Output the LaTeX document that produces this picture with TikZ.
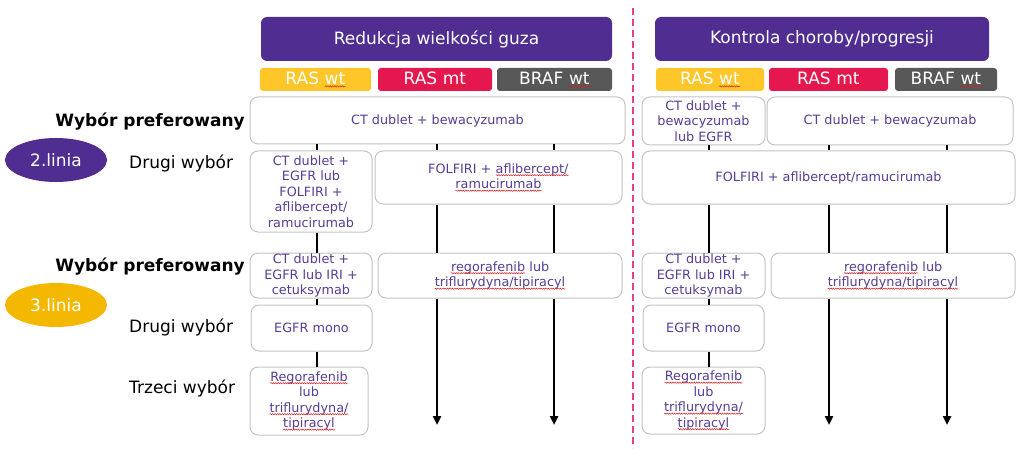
\documentclass[tikz,border=0pt]{standalone}
\usepackage{fontspec}
\setmainfont{DejaVu Sans}
\usetikzlibrary{shapes.geometric,arrows.meta,decorations.pathmorphing}
\definecolor{cpurple}{RGB}{80,46,145}
\definecolor{ctext}{RGB}{88,62,148}
\definecolor{cyellow}{RGB}{255,198,41}
\definecolor{cgold}{RGB}{245,184,0}
\definecolor{cred}{RGB}{228,24,78}
\definecolor{cgray}{RGB}{88,88,88}
\definecolor{cpink}{RGB}{232,62,140}
\definecolor{cline}{RGB}{196,196,196}
\definecolor{cspell}{RGB}{220,30,30}
\newcommand\spell[1]{\tikz[baseline=(sp.base), sharp corners, x=1pt, y=1pt]{\node [rectangle, draw=none, fill=none, inner sep=0pt, outer sep=0pt, minimum width=0pt, minimum height=0pt] (sp) {#1};
	\draw [cspell, line width=0.5pt, decorate, decoration={snake, amplitude=0.6pt, segment length=2.4pt}] ([yshift=-2pt]sp.base west) -- ([yshift=-2pt]sp.base east);}}
\tikzset{
	hdrbox/.style={fill=cpurple, rounded corners=6pt, text=white, inner sep=0pt, font=\fontsize{17}{20}\selectfont},
	tagbox/.style={rounded corners=3pt, text=white, inner sep=0pt, minimum height=23pt, font=\fontsize{17}{20}\selectfont},
	optbox/.style={draw=cline, line width=1pt, fill=white, rounded corners=8pt, text=ctext, align=center, inner sep=0pt, font=\fontsize{12.8}{15.5}\selectfont},
	linia/.style={ellipse, text=white, inner sep=0pt, minimum width=102pt, minimum height=44pt, font=\fontsize{17}{20}\selectfont},
	lbl/.style={inner sep=0pt, font=\fontsize{17}{20}\selectfont},
	link/.style={line width=2.8pt},
	flow/.style={link, -{Triangle[length=9pt,width=8pt]}}
}
\begin{document}
\begin{tikzpicture}[x=1pt,y=-1pt]
	\useasboundingbox (0,0) rectangle (1024,457);
	% headers
	\node [hdrbox, minimum width=351pt, minimum height=44pt] at (436.5,39) (h1) {Redukcja wielkości guza};
	\node [hdrbox, minimum width=334pt, minimum height=44pt] at (822,39) (h2) {Kontrola choroby/progresji};
	\node [tagbox, fill=cyellow, minimum width=111pt] at (315.5,79.5) (a1) {RAS \spell{wt}};
	\node [tagbox, fill=cred, minimum width=114pt] at (435,79.5) (a2) {RAS \spell{mt}};
	\node [tagbox, fill=cgray, minimum width=115pt] at (554.5,79.5) (a3) {BRAF \spell{wt}};
	\node [tagbox, fill=cyellow, minimum width=108pt] at (710,79.5) (b1) {RAS \spell{wt}};
	\node [tagbox, fill=cred, minimum width=119pt] at (828.5,79.5) (b2) {RAS \spell{mt}};
	\node [tagbox, fill=cgray, minimum width=102pt] at (946,79.5) (b3) {BRAF \spell{wt}};
	% row labels
	\node [lbl, anchor=east, font=\fontsize{17}{20}\selectfont\bfseries] at (245,122) (w2) {Wybór preferowany};
	\node [lbl, anchor=west] at (129,163) (d2) {Drugi wybór};
	\node [lbl, anchor=east, font=\fontsize{17}{20}\selectfont\bfseries] at (245,267) (w3) {Wybór preferowany};
	\node [lbl, anchor=west] at (129,327) (d3) {Drugi wybór};
	\node [lbl, anchor=west] at (129,388) (t3l) {Trzeci wybór};
	\node [linia, fill=cpurple] at (56,160) (e2) {2.linia};
	\node [linia, fill=cgold] at (56,305) (e3) {3.linia};
	% left part
	\node [optbox, minimum width=375pt, minimum height=47pt] at (437.5,120.5) (p1) {CT dublet + bewacyzumab};
	\node [optbox, minimum width=122pt, minimum height=81pt] at (311,191.5) (s2a) {CT dublet +\\EGFR lub\\FOLFIRI +\\aflibercept/\\ramucirumab};
	\node [optbox, minimum width=247pt, minimum height=53pt] at (498.5,177.5) (s2b) {FOLFIRI + \spell{aflibercept/}\\\spell{ramucirumab}};
	\node [optbox, minimum width=122pt, minimum height=45pt] at (311,275.5) (p3a) {CT dublet +\\EGFR lub IRI +\\cetuksymab};
	\node [optbox, minimum width=244pt, minimum height=45pt] at (500,275.5) (p3b) {\spell{regorafenib} lub\\\spell{triflurydyna/tipiracyl}};
	\node [optbox, minimum width=121pt, minimum height=46pt] at (311.5,328) (s3) {EGFR mono};
	\node [optbox, minimum width=118pt, minimum height=68pt] at (309,401) (t3) {\spell{Regorafenib}\\lub\\\spell{triflurydyna/}\\\spell{tipiracyl}};
	% right part
	\node [optbox, minimum width=123pt, minimum height=48pt] at (703.5,121) (q1a) {CT dublet +\\bewacyzumab\\lub EGFR};
	\node [optbox, minimum width=246pt, minimum height=48pt] at (890,121) (q1b) {CT dublet + bewacyzumab};
	\node [optbox, minimum width=373pt, minimum height=53pt] at (828.5,177.5) (q2) {FOLFIRI + aflibercept/ramucirumab};
	\node [optbox, minimum width=123pt, minimum height=45pt] at (703.5,275.5) (q3a) {CT dublet +\\EGFR lub IRI +\\cetuksymab};
	\node [optbox, minimum width=244pt, minimum height=45pt] at (893,275.5) (q3b) {\spell{regorafenib} lub\\\spell{triflurydyna/tipiracyl}};
	\node [optbox, minimum width=121pt, minimum height=46pt] at (703.5,328) (q4) {EGFR mono};
	\node [optbox, minimum width=123pt, minimum height=67pt] at (703.5,400.5) (q5) {\spell{Regorafenib}\\lub\\\spell{triflurydyna/}\\\spell{tipiracyl}};
	% columns
	\coordinate (cA) at (317,0);
	\coordinate (cB) at (437,0);
	\coordinate (cC) at (554,0);
	\coordinate (cD) at (709,0);
	\coordinate (cE) at (829,0);
	\coordinate (cF) at (947,0);
	\coordinate (z1) at (437,425);
	\coordinate (z2) at (554,425);
	\coordinate (z3) at (829,425);
	\coordinate (z4) at (947,425);
	\draw [link] (p1.south -| cA) -- (s2a.north -| cA);
	\draw [link] (s2a.south -| cA) -- (p3a.north -| cA);
	\draw [link] (p3a.south -| cA) -- (s3.north -| cA);
	\draw [link] (s3.south -| cA) -- (t3.north -| cA);
	\foreach \c/\z in {cB/z1, cC/z2} {
		\draw [link] (p1.south -| \c) -- (s2b.north -| \c);
		\draw [link] (s2b.south -| \c) -- (p3b.north -| \c);
		\draw [flow] (p3b.south -| \c) -- (\z);
	}
	\draw [link] (q1a.south -| cD) -- (q2.north -| cD);
	\draw [link] (q2.south -| cD) -- (q3a.north -| cD);
	\draw [link] (q3a.south -| cD) -- (q4.north -| cD);
	\draw [link] (q4.south -| cD) -- (q5.north -| cD);
	\foreach \c/\z in {cE/z3, cF/z4} {
		\draw [link] (q1b.south -| \c) -- (q2.north -| \c);
		\draw [link] (q2.south -| \c) -- (q3b.north -| \c);
		\draw [flow] (q3b.south -| \c) -- (\z);
	}
	% divider
	\coordinate (v1) at (633,8);
	\coordinate (v2) at (633,448);
	\draw [cpink, line width=2.4pt, dash pattern=on 7pt off 4pt] (v1) -- (v2);
\end{tikzpicture}
\end{document}
